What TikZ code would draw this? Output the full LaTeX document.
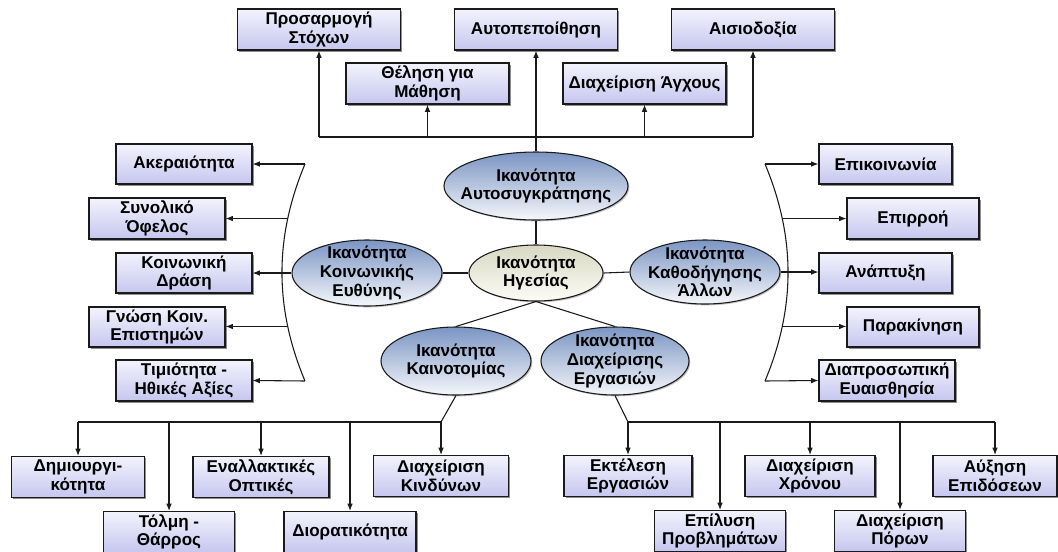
\documentclass[tikz,border=0pt]{standalone}
\usepackage{fontspec}
\setmainfont{Liberation Sans}
\usetikzlibrary{shapes.geometric,arrows.meta,shadows}

\definecolor{boxtop}{HTML}{F3F3FD}
\definecolor{boxbot}{HTML}{C6C6EF}
\definecolor{elltop}{HTML}{7B95C3}
\definecolor{ellbot}{HTML}{F5F7FB}
\definecolor{midtop}{HTML}{D8D8C4}
\definecolor{midbot}{HTML}{FCFCF5}
\definecolor{edge}{HTML}{1A1A1A}

\begin{document}
\begin{tikzpicture}[x=0.75pt,y=-0.75pt,
  every node/.style={font=\bfseries\fontsize{12.8}{14}\selectfont, align=center, text=black},
  w/.style={minimum width=#1*0.75pt},
  h/.style={minimum height=#1*0.75pt},
  box/.style={rectangle, draw=edge, line width=0.8pt, top color=boxtop, bottom color=boxbot,
    minimum height=40*0.75pt, inner sep=1pt,
    drop shadow={shadow xshift=1.2pt, shadow yshift=-1.2pt, fill=black!55, opacity=0.8}},
  ell/.style={ellipse, draw=edge, line width=0.8pt, top color=elltop, bottom color=ellbot,
    inner xsep=-10pt, inner ysep=-5pt,
    drop shadow={shadow xshift=1pt, shadow yshift=-1pt, fill=black!40, opacity=0.6}},
  midell/.style={ell, top color=midtop, bottom color=midbot},
  link/.style={draw=edge, line width=0.8pt},
  arr/.style={link, -{Latex[length=5.5pt,width=4.2pt]}}
]
\useasboundingbox (0,0) rectangle (1058,551);
\fill[white] (0,0) rectangle (1058,551);

% ---------- competence ellipses ----------
\node[ell, w=184, h=68] (as) at (536,186) {Ικανότητα\\Αυτοσυγκράτησης};
\node[midell, w=134, h=56] (hg) at (536,273) {Ικανότητα\\Ηγεσίας};
\node[ell, w=150, h=66] (ke) at (367,273) {Ικανότητα\\Κοινωνικής\\Ευθύνης};
\node[ell, w=150, h=64] (ka) at (705,272) {Ικανότητα\\Καθοδήγησης\\Άλλων};
\node[ell, w=150, h=68] (ki) at (456,361) {Ικανότητα\\Καινοτομίας};
\node[ell, w=148, h=68] (de) at (615,361) {Ικανότητα\\Διαχείρισης\\Εργασιών};

\draw[link] (hg.north) -- (as.south);
\draw[link] (hg.west) -- (ke.east);
\draw[link] (hg.east) -- (ka.west);
\draw[link] (hg.south) -- (ki.north);
\draw[link] (hg.south) -- (de.north);

% ---------- top group ----------
\node[box, w=163, h=41] (ps) at (319,29.5) {Προσαρμογή\\Στόχων};
\node[box, w=163, h=41] (th) at (427.5,83.5) {Θέληση για\\Μάθηση};
\node[box, w=163, h=41] (au) at (536,29.5) {Αυτοπεποίθηση};
\node[box, w=163, h=41] (ag) at (644.5,83.5) {Διαχείριση Άγχους};
\node[box, w=163, h=41] (ai) at (753,29.5) {Αισιοδοξία};

\coordinate (tbus) at (0,137);
\draw[link] (ps.south |- tbus) -- (ai.south |- tbus);
\draw[arr] (ps.south |- tbus) -- (ps.south);
\draw[arr] (th.south |- tbus) -- (th.south);
\draw[arr] (ag.south |- tbus) -- (ag.south);
\draw[arr] (ai.south |- tbus) -- (ai.south);
\draw[arr] (as.north) -- (au.south);

% ---------- left group ----------
\node[box, w=136] (l1) at (184,164) {Ακεραιότητα};
\node[box, w=136, h=41] (l2) at (157,218.5) {Συνολικό\\Όφελος};
\node[box, w=136] (l3) at (184,273) {Κοινωνική\\Δράση};
\node[box, w=136] (l4) at (157,327) {Γνώση Κοιν.\\Επιστημών};
\node[box, w=136, h=41] (l5) at (184,380.5) {Τιμιότητα -\\Ηθικές Αξίες};

\coordinate (lt) at (305,164);
\coordinate (lb) at (305,381);
\draw[link] (lt) .. controls (274.3,237.3) and (274.3,307.7) .. (lb)
  coordinate[pos=0.25] (lc2) coordinate[pos=0.75] (lc4);
\draw[arr] (lt) -- (l1.east);
\draw[arr] (lc2) -- (lc2 -| l2.east);
\draw[arr] (ke.west) -- (ke.west -| l3.east);
\draw[arr] (lc4) -- (lc4 -| l4.east);
\draw[arr] (lb) -- (l5.east);

% ---------- right group ----------
\node[box, w=133] (r1) at (885.5,164) {Επικοινωνία};
\node[box, w=132, h=41] (r2) at (913,218.5) {Επιρροή};
\node[box, w=133] (r3) at (885.5,273) {Ανάπτυξη};
\node[box, w=132] (r4) at (913,327) {Παρακίνηση};
\node[box, w=136, h=41] (r5) at (887,380.5) {Διαπροσωπική\\Ευαισθησία};

\coordinate (rt) at (765,164);
\coordinate (rb) at (765,381);
\draw[link] (rt) .. controls (795.7,237.3) and (795.7,307.7) .. (rb)
  coordinate[pos=0.25] (rc2) coordinate[pos=0.75] (rc4);
\draw[arr] (rt) -- (r1.west);
\draw[arr] (rc2) -- (rc2 -| r2.west);
\draw[arr] (ka.east) -- (ka.east -| r3.west);
\draw[arr] (rc4) -- (rc4 -| r4.west);
\draw[arr] (rb) -- (r5.west);

% ---------- bottom left group ----------
\node[box, w=133, h=41] (b1) at (78,477) {Δημιουργι-\\κότητα};
\node[box, w=131, h=41] (b2) at (169,532) {Τόλμη -\\Θάρρος};
\node[box, w=136, h=41] (b3) at (261,477) {Εναλλακτικές\\Οπτικές};
\node[box, w=132, h=41] (b4) at (350,532) {Διορατικότητα};
\node[box, w=135, h=41] (b5) at (441,476) {Διαχείριση\\Κινδύνων};

\coordinate (lbus) at (0,422);
\draw[link] (ki.south) -- (b5.north |- lbus);
\draw[link] (b1.north |- lbus) -- (b5.north |- lbus);
\foreach \n in {b1,b2,b3,b4,b5}
  \draw[arr] (\n.north |- lbus) -- (\n.north);

% ---------- bottom right group ----------
\node[box, w=128, h=41] (c1) at (628,476) {Εκτέλεση\\Εργασιών};
\node[box, w=131, h=41] (c2) at (720,531) {Επίλυση\\Προβλημάτων};
\node[box, w=130, h=41] (c3) at (810,476) {Διαχείριση\\Χρόνου};
\node[box, w=131, h=41] (c4) at (900,531) {Διαχείριση\\Πόρων};
\node[box, w=124, h=41] (c5) at (995,476) {Αύξηση\\Επιδόσεων};

\coordinate (rbus) at (0,422);
\draw[link] (de.south) -- (c1.north |- rbus);
\draw[link] (c1.north |- rbus) -- (c5.north |- rbus);
\foreach \n in {c1,c2,c3,c4,c5}
  \draw[arr] (\n.north |- rbus) -- (\n.north);
\end{tikzpicture}
\end{document}
